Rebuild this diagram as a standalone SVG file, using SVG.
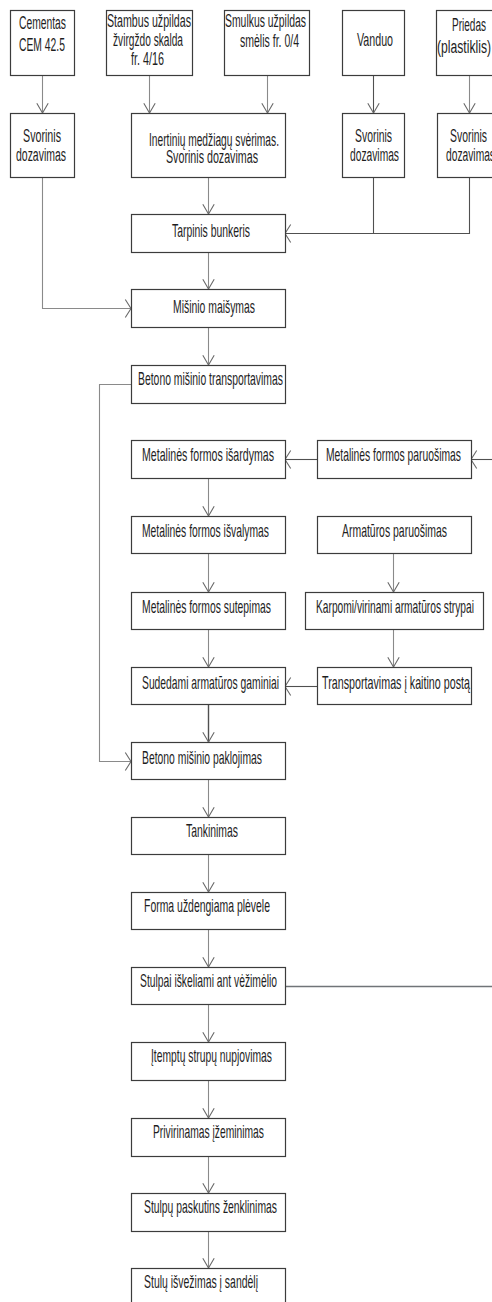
<svg xmlns="http://www.w3.org/2000/svg" width="492" height="1302" viewBox="0 0 492 1302">
<defs>
<style>
.box{fill:#ffffff;stroke:#3c3c3c;stroke-width:1.2}
.t{font-family:"Liberation Sans",Arial,sans-serif;font-size:19px;fill:#1e1e1e}
.s{font-size:17.5px}
.m{font-size:18px}
.c{fill:none;stroke:#8a8a8a;stroke-width:1.1}
.d{stroke:#505050}
.v{marker-end:url(#av)}
.h{marker-end:url(#ah)}
</style>
<marker id="av" markerUnits="userSpaceOnUse" viewBox="-12 -8 13 16" markerWidth="13" markerHeight="16" refX="0" refY="0" orient="auto">
<path d="M-9.7,-5.7 L0,0 L-9.7,5.7" fill="none" stroke="#6a6a6a" stroke-width="1.1"/>
</marker>
<marker id="ah" markerUnits="userSpaceOnUse" viewBox="-8 -11 9 22" markerWidth="9" markerHeight="22" refX="0" refY="0" orient="auto">
<path d="M-5.7,-9 L0,0 L-5.7,9" fill="none" stroke="#6a6a6a" stroke-width="1.1"/>
</marker>
</defs>
<rect width="492" height="1302" fill="#ffffff"/>
<g id="connectors">
<path class="c v" d="M42.5,75 V113"/>
<path class="c v" d="M149.5,75 V113"/>
<path class="c v" d="M267.5,75 V113"/>
<path class="c d v" d="M373.5,75 V113"/>
<path class="c v" d="M469.5,75 V113"/>
<path class="c h" d="M42.5,177 V308.5 H131"/>
<path class="c v" d="M208.5,177 V214"/>
<path class="c d" d="M373.5,177 V233.5"/>
<path class="c d h" d="M469.5,177 V233.5 H285"/>
<path class="c v" d="M208.5,252 V289"/>
<path class="c v" d="M208.5,327 V365"/>
<path class="c h" d="M131,384.5 H99.5 V761.5 H131"/>
<path class="c d h" d="M492,459.5 H471"/>
<path class="c d h" d="M317,459.5 H285"/>
<path class="c v" d="M208.5,478 V516"/>
<path class="c v" d="M208.5,553 V592"/>
<path class="c v" d="M393.5,553 V592"/>
<path class="c v" d="M208.5,629 V667"/>
<path class="c v" d="M393.5,629 V667"/>
<path class="c d h" d="M317,686.5 H285"/>
<path class="c d v" d="M208.5,704 V742" style="stroke-width:1.4"/>
<path class="c v" d="M208.5,779 V817"/>
<path class="c v" d="M208.5,854 V892"/>
<path class="c v" d="M208.5,929 V967"/>
<path class="c" d="M285,986.5 H492" style="stroke:#707478;stroke-width:1.4"/>
<path class="c v" d="M208.5,1004 V1042"/>
<path class="c v" d="M208.5,1080 V1118"/>
<path class="c v" d="M208.5,1156 V1193"/>
<path class="c v" d="M208.5,1231 V1268"/>
</g>
<g id="n-cementas"><rect class="box" x="10.5" y="10.5" width="64" height="65"/>
<text class="t m" x="19" y="29" textLength="47" lengthAdjust="spacingAndGlyphs">Cementas</text>
<text class="t m" x="19" y="51" textLength="46" lengthAdjust="spacingAndGlyphs">CEM 42.5</text></g>
<g id="n-stambus"><rect class="box" x="106.5" y="10.5" width="86" height="65"/>
<text class="t s" x="107" y="27" textLength="84" lengthAdjust="spacingAndGlyphs">Stambus užpildas</text>
<text class="t s" x="113" y="46" textLength="70" lengthAdjust="spacingAndGlyphs">žvirgždo skalda</text>
<text class="t s" x="131" y="65" textLength="33" lengthAdjust="spacingAndGlyphs">fr. 4/16</text></g>
<g id="n-smulkus"><rect class="box" x="224.5" y="10.5" width="85" height="65"/>
<text class="t m" x="225" y="27" textLength="81" lengthAdjust="spacingAndGlyphs">Smulkus užpildas</text>
<text class="t m" x="240" y="47" textLength="59" lengthAdjust="spacingAndGlyphs">smėlis fr. 0/4</text></g>
<g id="n-vanduo"><rect class="box" x="342.5" y="10.5" width="62" height="65"/>
<text class="t" x="357" y="46" textLength="36" lengthAdjust="spacingAndGlyphs">Vanduo</text></g>
<g id="n-priedas"><rect class="box" x="436.5" y="10.5" width="64" height="65"/>
<text class="t m" x="452" y="31" textLength="34" lengthAdjust="spacingAndGlyphs">Priedas</text>
<text class="t m" x="437" y="53" textLength="54" lengthAdjust="spacingAndGlyphs">(plastiklis)</text></g>
<g id="n-svorinis1"><rect class="box" x="10.5" y="113.5" width="64" height="64"/>
<text class="t m" x="23" y="142" textLength="38" lengthAdjust="spacingAndGlyphs">Svorinis</text>
<text class="t m" x="16" y="161" textLength="50" lengthAdjust="spacingAndGlyphs">dozavimas</text></g>
<g id="n-inertiniu"><rect class="box" x="131.5" y="113.5" width="154" height="64"/>
<text class="t m" x="149" y="146" textLength="130" lengthAdjust="spacingAndGlyphs">Inertinių medžiagų svėrimas.</text>
<text class="t m" x="166" y="163" textLength="92" lengthAdjust="spacingAndGlyphs">Svorinis dozavimas</text></g>
<g id="n-svorinis2"><rect class="box" x="342.5" y="113.5" width="62" height="64"/>
<text class="t m" x="355" y="142" textLength="37" lengthAdjust="spacingAndGlyphs">Svorinis</text>
<text class="t m" x="350" y="161" textLength="49" lengthAdjust="spacingAndGlyphs">dozavimas</text></g>
<g id="n-svorinis3"><rect class="box" x="437.5" y="113.5" width="64" height="64"/>
<text class="t m" x="450" y="142" textLength="37" lengthAdjust="spacingAndGlyphs">Svorinis</text>
<text class="t m" x="446" y="161" textLength="49" lengthAdjust="spacingAndGlyphs">dozavimas</text></g>
<g id="n-tarpinis"><rect class="box" x="131.5" y="214.5" width="154" height="38"/>
<text class="t" x="172" y="237" textLength="78" lengthAdjust="spacingAndGlyphs">Tarpinis bunkeris</text></g>
<g id="n-misinio"><rect class="box" x="131.5" y="289.5" width="154" height="38"/>
<text class="t" x="173" y="313" textLength="82" lengthAdjust="spacingAndGlyphs">Mišinio maišymas</text></g>
<g id="n-transport"><rect class="box" x="131.5" y="365.5" width="154" height="38"/>
<text class="t" x="138" y="385" textLength="145" lengthAdjust="spacingAndGlyphs">Betono mišinio transportavimas</text></g>
<g id="n-isardymas"><rect class="box" x="131.5" y="440.5" width="154" height="38"/>
<text class="t" x="142" y="461" textLength="132" lengthAdjust="spacingAndGlyphs">Metalinės formos išardymas</text></g>
<g id="n-paruosimas"><rect class="box" x="317.5" y="440.5" width="154" height="38"/>
<text class="t" x="326" y="461" textLength="135" lengthAdjust="spacingAndGlyphs">Metalinės formos paruošimas</text></g>
<g id="n-isvalymas"><rect class="box" x="131.5" y="516.5" width="154" height="37"/>
<text class="t" x="142" y="537" textLength="127" lengthAdjust="spacingAndGlyphs">Metalinės formos išvalymas</text></g>
<g id="n-armaturos"><rect class="box" x="317.5" y="516.5" width="154" height="37"/>
<text class="t" x="342" y="537" textLength="105" lengthAdjust="spacingAndGlyphs">Armatūros paruošimas</text></g>
<g id="n-sutepimas"><rect class="box" x="131.5" y="592.5" width="154" height="37"/>
<text class="t" x="142" y="613" textLength="129" lengthAdjust="spacingAndGlyphs">Metalinės formos sutepimas</text></g>
<g id="n-karpomi"><rect class="box" x="305.5" y="592.5" width="178" height="37"/>
<text class="t" x="316" y="613" textLength="158" lengthAdjust="spacingAndGlyphs">Karpomi/virinami armatūros strypai</text></g>
<g id="n-sudedami"><rect class="box" x="131.5" y="667.5" width="154" height="37"/>
<text class="t" x="142" y="689" textLength="137" lengthAdjust="spacingAndGlyphs">Sudedami armatūros gaminiai</text></g>
<g id="n-transportavimas"><rect class="box" x="317.5" y="667.5" width="154" height="37"/>
<text class="t" x="322" y="689" textLength="148" lengthAdjust="spacingAndGlyphs">Transportavimas į kaitino postą</text></g>
<g id="n-paklojimas"><rect class="box" x="131.5" y="742.5" width="154" height="37"/>
<text class="t" x="142" y="764" textLength="120" lengthAdjust="spacingAndGlyphs">Betono mišinio paklojimas</text></g>
<g id="n-tankinimas"><rect class="box" x="131.5" y="817.5" width="154" height="37"/>
<text class="t" x="186" y="837" textLength="52" lengthAdjust="spacingAndGlyphs">Tankinimas</text></g>
<g id="n-forma"><rect class="box" x="131.5" y="892.5" width="154" height="37"/>
<text class="t" x="144" y="912" textLength="126" lengthAdjust="spacingAndGlyphs">Forma uždengiama plėvele</text></g>
<g id="n-stulpai"><rect class="box" x="131.5" y="967.5" width="154" height="37"/>
<text class="t" x="140" y="987" textLength="137" lengthAdjust="spacingAndGlyphs">Stulpai iškeliami ant vėžimėlio</text></g>
<g id="n-itemptu"><rect class="box" x="131.5" y="1042.5" width="154" height="38"/>
<text class="t" x="151" y="1062" textLength="121" lengthAdjust="spacingAndGlyphs">Įtemptų strupų nupjovimas</text></g>
<g id="n-privirinamas"><rect class="box" x="131.5" y="1118.5" width="154" height="38"/>
<text class="t" x="153" y="1138" textLength="111" lengthAdjust="spacingAndGlyphs">Privirinamas įžeminimas</text></g>
<g id="n-zenklinimas"><rect class="box" x="131.5" y="1193.5" width="154" height="38"/>
<text class="t" x="144" y="1213" textLength="133" lengthAdjust="spacingAndGlyphs">Stulpų paskutins ženklinimas</text></g>
<g id="n-isvezimas"><rect class="box" x="131.5" y="1268.5" width="154" height="38"/>
<text class="t" x="144" y="1288" textLength="114" lengthAdjust="spacingAndGlyphs">Stulų išvežimas į sandėlį</text></g>
</svg>
